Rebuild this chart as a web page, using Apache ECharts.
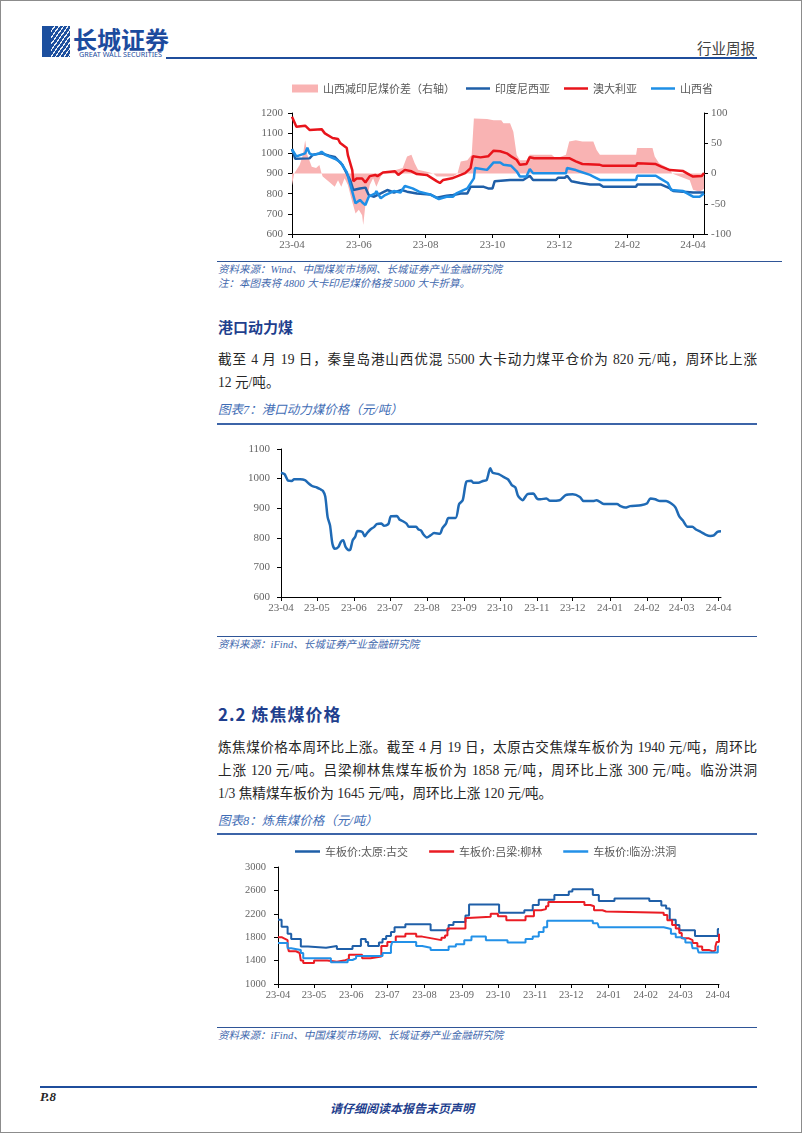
<!DOCTYPE html>
<html lang="zh-CN">
<head>
<meta charset="utf-8">
<title>行业周报</title>
<script src="https://cdn.jsdelivr.net/npm/echarts@6/dist/echarts.min.js"></script>
<style>
  html, body { margin: 0; padding: 0; background: #fff; }
  #page { position: relative; width: 802px; height: 1133px; overflow: hidden;
          font-family: "Liberation Serif", "Noto Sans CJK SC", serif; color: #262626; }
  #frame { position: absolute; left: 0; top: 0; width: 800px; height: 1131px; border: 1px solid #8c8c8c; }
  #chart { position: absolute; left: 0; top: 0; width: 802px; height: 1133px; }
  .t { position: absolute; white-space: nowrap; }
  .rule { position: absolute; height: 0; }
  .src { font-size: 10.5px; line-height: 14px; font-style: italic; color: #3f68ad; }
  .cap { font-size: 12.5px; line-height: 16px; font-style: italic; color: #3f6db5; }
  .h { font-family: "Noto Sans CJK SC", sans-serif; font-weight: bold; color: #1f3f8e; }
  .p { font-size: 13.6px; line-height: 20px; width: 539px; }
  .j { text-align: justify; text-align-last: justify; }
  #logo { position: absolute; left: 42px; top: 26px; width: 28px; height: 31px; background: #1c4f9e; overflow: hidden; }
  #logo:after { content: ''; position: absolute; left: 9px; top: -6px; width: 40px; height: 46px;
                background: repeating-linear-gradient(125deg, transparent 0 2.5px, rgba(255,255,255,.9) 2.5px 3.6px); }
</style>
</head>
<body>
<div id="page">
  <div id="frame"></div>

  <div id="logo"></div>
  <div class="t h" style="left:73px;top:25px;font-size:24px;line-height:28px;color:#1c4b9e;">长城证券</div>
  <div class="t" style="left:79px;top:50px;font-size:7.2px;line-height:8px;color:#1c4b9e;font-family:'Noto Sans',sans-serif;">GREAT WALL SECURITIES</div>
  <div class="rule" style="left:166px;top:57px;width:591px;border-top:2px solid #1f4e9c;"></div>
  <div class="t" style="left:697px;top:39px;font-size:14.5px;line-height:18px;color:#404040;font-family:'Noto Sans CJK SC';">行业周报</div>

  <div class="rule" style="left:217px;top:261px;width:565px;border-top:1.5px solid #2f5597;"></div>
  <div class="t src" style="left:218px;top:263px;">资料来源：Wind、中国煤炭市场网、长城证券产业金融研究院</div>
  <div class="t src" style="left:218px;top:277px;">注：本图表将 4800 大卡印尼煤价格按 5000 大卡折算。</div>

  <div class="t h" style="left:218px;top:317px;font-size:15px;line-height:20px;">港口动力煤</div>
  <div class="t p j" style="left:218px;top:350px;">截至 4 月 19 日，秦皇岛港山西优混 5500 大卡动力煤平仓价为 820 元/吨，周环比上涨</div>
  <div class="t p" style="left:218px;top:373px;">12 元/吨。</div>

  <div class="t cap" style="left:218px;top:402px;">图表7：港口动力煤价格（元/吨）</div>
  <div class="rule" style="left:217px;top:423px;width:540px;border-top:2px solid #3c64a8;"></div>

  <div class="rule" style="left:217px;top:636px;width:540px;border-top:1.5px solid #2f5597;"></div>
  <div class="t src" style="left:218px;top:638px;">资料来源：iFind、长城证券产业金融研究院</div>

  <div class="t h" style="left:218px;top:703px;font-size:17px;line-height:22px;letter-spacing:1px;">2.2 炼焦煤价格</div>
  <div class="t p j" style="left:218px;top:738px;">炼焦煤价格本周环比上涨。截至 4 月 19 日，太原古交焦煤车板价为 1940 元/吨，周环比</div>
  <div class="t p j" style="left:218px;top:761px;">上涨 120 元/吨。吕梁柳林焦煤车板价为 1858 元/吨，周环比上涨 300 元/吨。临汾洪洞</div>
  <div class="t p" style="left:218px;top:784px;">1/3 焦精煤车板价为 1645 元/吨，周环比上涨 120 元/吨。</div>

  <div class="t cap" style="left:218px;top:813px;">图表8：炼焦煤价格（元/吨）</div>
  <div class="rule" style="left:217px;top:833px;width:540px;border-top:2px solid #3c64a8;"></div>

  <div class="rule" style="left:217px;top:1027px;width:540px;border-top:1.5px solid #2f5597;"></div>
  <div class="t src" style="left:218px;top:1029px;">资料来源：iFind、中国煤炭市场网、长城证券产业金融研究院</div>

  <div class="rule" style="left:40px;top:1086px;width:717px;border-top:2px solid #1f4e9c;"></div>
  <div class="t" style="left:40px;top:1089px;font-size:13px;line-height:16px;font-weight:bold;font-style:italic;">P.8</div>
  <div class="t h" style="left:330px;top:1100px;font-size:12px;line-height:16px;font-style:italic;">请仔细阅读本报告末页声明</div>

  <div id="chart"></div>
</div>

<script>
// ---- 图1: 动力煤价格对比 (左轴 元/吨, 右轴 价差) ----
var c1TickDates = ['2023-04-01', '2023-06-01', '2023-08-01', '2023-10-01', '2023-12-01', '2024-02-01', '2024-04-01'];

var c1SpreadDates = ['2023-04-01','2023-04-03','2023-04-08','2023-04-11','2023-04-13','2023-04-15','2023-04-19','2023-04-23','2023-04-26','2023-04-28',
  '2023-04-29','2023-05-05','2023-05-10','2023-05-13','2023-05-16','2023-05-19','2023-05-22','2023-05-26','2023-05-29','2023-06-01',
  '2023-06-04','2023-06-05','2023-06-07','2023-06-11','2023-06-14','2023-06-17','2023-06-21','2023-06-23','2023-07-11','2023-07-15',
  '2023-07-19','2023-07-22','2023-07-25','2023-08-02','2023-08-08','2023-08-11','2023-08-26','2023-08-30','2023-09-02','2023-09-08',
  '2023-09-12','2023-09-14','2023-09-26','2023-10-02','2023-10-09','2023-10-11','2023-10-17','2023-10-20','2023-10-23','2023-10-26',
  '2023-11-01','2023-11-04','2023-11-24','2023-11-28','2023-12-07','2023-12-10','2023-12-16','2023-12-22','2024-01-01','2024-01-04',
  '2024-01-07','2024-02-09','2024-02-10','2024-02-24','2024-02-26','2024-03-01','2024-03-07','2024-03-11','2024-03-13','2024-03-20',
  '2024-03-29','2024-04-01','2024-04-07','2024-04-11'];
var c1SpreadValues = [-20,0,14,31,55,31,11,9,14,0,
  -5,-14,-22,-11,-22,-8,-19,-47,-66,-60,
  -69,-85,-52,-19,-8,-22,-5,0,9,28,
  31,17,6,3,0,-5,-5,0,20,22,
  31,91,90,88,88,83,83,69,31,22,
  22,31,31,25,31,53,55,53,53,39,
  31,31,42,42,28,17,11,6,0,-5,
  -11,-27,-30,-25];

var c1IndoDates = ['2023-04-01','2023-04-04','2023-04-17','2023-04-20','2023-04-28','2023-05-05','2023-05-10','2023-05-17','2023-05-24','2023-05-27',
  '2023-06-02','2023-06-07','2023-06-10','2023-06-15','2023-06-21','2023-06-27','2023-07-03','2023-07-10','2023-07-15','2023-07-24',
  '2023-08-05','2023-08-11','2023-08-20','2023-08-26','2023-09-02','2023-09-08','2023-09-11','2023-09-23','2023-09-27','2023-10-01',
  '2023-10-03','2023-10-17','2023-10-29','2023-11-04','2023-11-07','2023-11-28','2023-11-30','2023-12-06','2023-12-08','2023-12-12',
  '2023-12-20','2023-12-29','2024-01-07','2024-01-10','2024-02-09','2024-02-10','2024-03-03','2024-03-11','2024-03-14','2024-04-01',
  '2024-04-11'];
var c1IndoValues = [1022,973,975,993,1000,988,982,943,868,818,
  826,830,793,785,801,818,806,818,810,801,
  796,780,790,793,801,801,834,834,826,826,
  862,868,868,889,868,868,879,879,889,862,
  853,845,845,834,834,845,845,826,813,806,
  806];

var c1AusDates = ['2023-04-01','2023-04-05','2023-04-13','2023-04-17','2023-04-28','2023-05-01','2023-05-08','2023-05-13','2023-05-15','2023-05-21',
  '2023-05-22','2023-05-26','2023-05-27','2023-05-30','2023-06-04','2023-06-07','2023-06-11','2023-06-16','2023-06-18','2023-06-23',
  '2023-07-04','2023-07-07','2023-07-13','2023-07-19','2023-07-24','2023-08-02','2023-08-11','2023-08-14','2023-08-17','2023-08-25',
  '2023-09-02','2023-09-06','2023-09-11','2023-09-13','2023-09-20','2023-09-27','2023-10-02','2023-10-08','2023-10-14','2023-10-18',
  '2023-10-23','2023-10-26','2023-11-01','2023-11-04','2023-11-08','2023-12-10','2023-12-16','2023-12-22','2024-01-07','2024-01-10',
  '2024-02-09','2024-02-10','2024-02-27','2024-03-03','2024-03-11','2024-03-23','2024-03-29','2024-04-01','2024-04-09','2024-04-11'];
var c1AusValues = [1182,1132,1137,1116,1120,1099,1076,1071,1051,1026,
  991,917,862,875,875,855,887,893,887,905,
  911,893,918,911,897,893,862,853,868,876,
  893,902,927,985,980,985,1013,1010,1000,985,
  968,943,947,981,976,976,960,947,943,938,
  938,951,947,934,917,912,893,885,888,902];

var c1ShanxiDates = ['2023-04-01','2023-04-05','2023-04-13','2023-04-15','2023-04-17','2023-04-20','2023-04-26','2023-04-28','2023-05-02','2023-05-10',
  '2023-05-15','2023-05-21','2023-05-26','2023-05-29','2023-06-02','2023-06-05','2023-06-07','2023-06-10','2023-06-16','2023-06-17',
  '2023-06-21','2023-06-25','2023-07-03','2023-07-09','2023-07-13','2023-07-20','2023-07-26','2023-08-05','2023-08-13','2023-08-20',
  '2023-08-26','2023-08-29','2023-09-08','2023-09-14','2023-09-15','2023-09-26','2023-10-02','2023-10-08','2023-10-11','2023-10-18',
  '2023-10-23','2023-10-26','2023-11-01','2023-11-04','2023-11-07','2023-12-07','2023-12-08','2023-12-16','2023-12-19','2023-12-29',
  '2024-01-01','2024-01-07','2024-02-09','2024-02-10','2024-02-27','2024-03-03','2024-03-09','2024-03-12','2024-03-23','2024-04-01',
  '2024-04-07','2024-04-11'];
var c1ShanxiValues = [1020,985,1000,1028,1000,991,1000,1008,991,973,
  957,907,810,752,769,752,744,785,801,813,
  777,793,813,806,838,826,810,796,773,785,
  785,801,826,876,927,918,955,955,943,938,
  911,885,885,922,901,901,927,917,911,893,
  885,868,868,889,889,872,853,818,813,785,
  785,801];

// ---- 图表7: 港口动力煤价格 ----
var monthTicks = ['2023-04-01','2023-05-01','2023-06-01','2023-07-01','2023-08-01','2023-09-01','2023-10-01',
  '2023-11-01','2023-12-01','2024-01-01','2024-02-01','2024-03-01','2024-04-01'];

var portDates = ['2023-04-01','2023-04-04','2023-04-07','2023-04-10','2023-04-12','2023-04-17','2023-04-21','2023-04-24','2023-04-27','2023-05-01',
  '2023-05-04','2023-05-06','2023-05-08','2023-05-10','2023-05-12','2023-05-14','2023-05-16','2023-05-19','2023-05-21','2023-05-23',
  '2023-05-25','2023-05-28','2023-05-29','2023-05-31','2023-06-02','2023-06-04','2023-06-08','2023-06-10','2023-06-12','2023-06-15',
  '2023-06-18','2023-06-20','2023-06-24','2023-06-26','2023-06-28','2023-06-30','2023-07-02','2023-07-07','2023-07-09','2023-07-12',
  '2023-07-15','2023-07-17','2023-07-23','2023-07-25','2023-07-27','2023-07-29','2023-08-01','2023-08-04','2023-08-07','2023-08-12',
  '2023-08-14','2023-08-17','2023-08-19','2023-08-25','2023-08-28','2023-08-31','2023-09-03','2023-09-07','2023-09-09','2023-09-13',
  '2023-09-17','2023-09-20','2023-09-23','2023-09-25','2023-09-30','2023-10-04','2023-10-08','2023-10-11','2023-10-14','2023-10-16',
  '2023-10-18','2023-10-20','2023-10-24','2023-10-29','2023-11-01','2023-11-04','2023-11-09','2023-11-12','2023-11-20','2023-11-25',
  '2023-12-01','2023-12-07','2023-12-10','2023-12-18','2023-12-21','2023-12-27','2024-01-07','2024-01-10','2024-01-14','2024-01-18',
  '2024-01-27','2024-02-01','2024-02-04','2024-02-08','2024-02-12','2024-02-17','2024-02-22','2024-02-25','2024-02-28','2024-03-02',
  '2024-03-06','2024-03-10','2024-03-13','2024-03-17','2024-03-21','2024-03-25','2024-03-28','2024-03-31','2024-04-03'];
var portValues = [1020,1015,993,992,998,998,995,984,975,970,
  964,959,940,870,842,780,763,769,786,792,
  769,758,760,792,803,823,820,805,816,829,
  837,846,848,841,842,848,873,874,862,856,
  848,837,837,828,825,812,801,808,816,814,
  833,848,867,867,914,927,989,993,986,986,
  992,995,1035,1020,1015,1006,997,978,970,944,
  933,927,947,950,933,930,933,925,927,944,
  947,938,924,924,927,914,914,907,902,907,
  910,916,933,930,924,924,914,902,873,859,
  837,837,828,820,811,806,808,820,822];

// ---- 图表8: 炼焦煤价格 ----
var gujiaoDates = ['2023-04-01','2023-04-04','2023-04-09','2023-04-12','2023-04-20','2023-04-26','2023-05-11','2023-05-20','2023-06-02','2023-06-09',
  '2023-06-13','2023-06-15','2023-06-24','2023-06-27','2023-06-30','2023-07-04','2023-07-07','2023-07-16','2023-08-06','2023-08-21',
  '2023-08-25','2023-09-04','2023-09-07','2023-10-02','2023-10-23','2023-10-30','2023-11-04','2023-11-17','2023-11-29','2023-12-02',
  '2023-12-19','2023-12-24','2024-01-06','2024-02-04','2024-02-14','2024-02-18','2024-02-21','2024-02-26','2024-02-29','2024-03-13',
  '2024-04-01','2024-04-02'];
var gujiaoValues = [2100,1980,1860,1770,1640,1620,1650,1600,1650,1770,
  1720,1650,1710,1770,1820,1890,1970,2020,1920,2010,
  2060,2170,2360,2220,2260,2350,2440,2520,2580,2620,
  2520,2420,2460,2420,2340,2290,2100,2010,1920,1820,
  1940,1940];

var liulinDates = ['2023-04-01','2023-04-04','2023-04-06','2023-04-09','2023-04-10','2023-04-16','2023-04-19','2023-04-20','2023-04-22','2023-05-01',
  '2023-05-12','2023-05-20','2023-05-26','2023-05-30','2023-06-10','2023-06-17','2023-06-26','2023-07-01','2023-07-08','2023-07-16',
  '2023-07-25','2023-07-30','2023-08-07','2023-08-15','2023-08-18','2023-08-20','2023-09-04','2023-09-06','2023-09-25','2023-10-01',
  '2023-10-08','2023-10-24','2023-10-31','2023-11-06','2023-11-10','2023-11-12','2023-12-12','2023-12-17','2023-12-20','2023-12-27',
  '2023-12-30','2024-02-16','2024-02-19','2024-02-23','2024-02-26','2024-02-29','2024-03-02','2024-03-08','2024-03-11','2024-03-15',
  '2024-03-19','2024-03-25','2024-03-28','2024-03-30','2024-03-31','2024-04-02'];
var liulinValues = [1800,1780,1750,1650,1560,1530,1500,1400,1360,1400,
  1380,1400,1430,1500,1440,1470,1650,1720,1810,1860,
  1810,1780,1750,1790,1830,1950,2130,2150,2200,2160,
  2090,2160,2260,2280,2330,2400,2350,2330,2260,2240,
  2220,2180,2090,2010,1950,1870,1780,1750,1700,1640,
  1580,1555,1580,1640,1720,1858];

var hongtongDates = ['2023-04-01','2023-04-09','2023-04-12','2023-04-20','2023-04-22','2023-05-15','2023-05-29','2023-06-02','2023-06-05','2023-06-27',
  '2023-07-04','2023-07-05','2023-07-25','2023-07-30','2023-08-06','2023-08-21','2023-08-27','2023-09-03','2023-09-09','2023-09-21',
  '2023-10-09','2023-10-24','2023-10-30','2023-11-04','2023-11-08','2023-11-11','2023-12-19','2023-12-23','2023-12-24','2024-02-16',
  '2024-02-22','2024-02-26','2024-03-01','2024-03-05','2024-03-10','2024-03-11','2024-03-15','2024-03-16','2024-04-01','2024-04-02'];
var hongtongValues = [1700,1610,1580,1530,1440,1370,1410,1440,1480,1530,
  1640,1720,1650,1620,1580,1640,1680,1750,1810,1750,
  1710,1770,1810,1890,1970,2080,2040,2010,1970,1940,
  1860,1800,1770,1710,1690,1610,1580,1540,1640,1645];

// 每日类目轴 (起止日期)
function dayList(start, end) {
    var out = [];
    var d = new Date(start + 'T00:00:00Z');
    var stop = new Date(end + 'T00:00:00Z');
    while (d <= stop) {
        out.push(d.toISOString().slice(0, 10));
        d.setUTCDate(d.getUTCDate() + 1);
    }
    return out;
}
function pairs(dates, values) {
    return dates.map(function (d, i) { return [d, values[i]]; });
}

var labelColor = '#666';
var serif = '"Liberation Serif", "Noto Sans CJK SC", serif';
var legendText = { fontSize: 11, color: '#595959', fontFamily: '"Noto Sans CJK SC", sans-serif' };

function dateAxis(gridIndex, days, ticks, fontSize) {
    var show = function (index, value) { return ticks.indexOf(value) >= 0; };
    return {
        type: 'category',
        gridIndex: gridIndex,
        data: days,
        boundaryGap: false,
        axisLine: { onZero: false, lineStyle: { color: '#000', width: 1 } },
        axisTick: { interval: show, length: 4, lineStyle: { color: '#000' } },
        axisLabel: {
            interval: show,
            formatter: function (v) { return v.slice(2, 7); },
            color: labelColor, fontSize: fontSize, fontFamily: serif, margin: 6
        },
        splitLine: { show: false }
    };
}
function valueAxis(gridIndex, min, max, interval, position, margin, fontSize) {
    return {
        type: 'value',
        gridIndex: gridIndex,
        position: position,
        min: min, max: max, interval: interval,
        axisLine: { show: true, lineStyle: { color: '#000', width: 1 } },
        axisTick: { show: true, length: 4, lineStyle: { color: '#000' } },
        axisLabel: {
            color: labelColor, fontSize: fontSize, fontFamily: serif, margin: margin,
            formatter: function (v) { return String(v); }
        },
        splitLine: { show: false }
    };
}
function lineSeries(name, x, y, data, color, width) {
    return {
        name: name, type: 'line', xAxisIndex: x, yAxisIndex: y, data: data,
        symbol: 'none', color: color,
        lineStyle: { color: color, width: width }
    };
}
function lineLegend(left, top, gap, width, names) {
    return {
        left: left, top: top, padding: 0, itemWidth: width, itemHeight: 2.5, itemGap: gap,
        textStyle: legendText,
        data: names.map(function (n) { return { name: n, icon: 'rect' }; })
    };
}

var pink = '#f9b3b3';
var chart = echarts.init(document.getElementById('chart'));

var s2 = lineSeries('港口动力煤', 1, 2, pairs(portDates, portValues), '#1f6ab5', 2.5);
s2.smooth = 0.25;
var g1 = lineSeries('车板价:太原:古交', 2, 3, pairs(gujiaoDates, gujiaoValues), '#1f5fa8', 2);
var g2 = lineSeries('车板价:吕梁:柳林', 2, 3, pairs(liulinDates, liulinValues), '#ea1c24', 2);
var g3 = lineSeries('车板价:临汾:洪洞', 2, 3, pairs(hongtongDates, hongtongValues), '#2391e8', 2);
[g1, g2, g3].forEach(function (s) { s.step = 'end'; });

var option = {
    animation: false,
    textStyle: { fontFamily: serif },
    legend: [
        {
            left: 292, top: 83, padding: 0, itemWidth: 26, itemHeight: 8,
            textStyle: legendText,
            data: [{ name: '山西减印尼煤价差（右轴）', icon: 'rect', itemStyle: { color: pink } }]
        },
        lineLegend(466, 83, 14, 24, ['印度尼西亚', '澳大利亚', '山西省']),
        lineLegend(295, 846, 21, 25, ['车板价:太原:古交', '车板价:吕梁:柳林', '车板价:临汾:洪洞'])
    ],
    grid: [
        { left: 292, top: 113, width: 412, height: 121 },
        { left: 281, top: 449, width: 440, height: 148 },
        { left: 278, top: 867, width: 441, height: 117 }
    ],
    xAxis: [
        dateAxis(0, dayList('2023-04-01', '2024-04-11'), c1TickDates, 11),
        dateAxis(1, dayList('2023-04-01', '2024-04-03'), monthTicks, 11),
        dateAxis(2, dayList('2023-04-01', '2024-04-02'), monthTicks, 10.5)
    ],
    yAxis: [
        valueAxis(0, 600, 1200, 100, 'left', 9, 11),
        valueAxis(0, -100, 100, 50, 'right', 7, 11),
        valueAxis(1, 600, 1100, 100, 'left', 11, 11),
        valueAxis(2, 1000, 3000, 400, 'left', 12, 10.5)
    ],
    series: [
        {
            name: '山西减印尼煤价差（右轴）', type: 'line', xAxisIndex: 0, yAxisIndex: 1,
            data: pairs(c1SpreadDates, c1SpreadValues),
            symbol: 'none', color: pink, z: 1,
            lineStyle: { width: 0, color: pink },
            areaStyle: { color: pink, opacity: 1 }
        },
        lineSeries('印度尼西亚', 0, 0, pairs(c1IndoDates, c1IndoValues), '#1f5fa8', 2.5),
        lineSeries('澳大利亚', 0, 0, pairs(c1AusDates, c1AusValues), '#e8141b', 2.5),
        lineSeries('山西省', 0, 0, pairs(c1ShanxiDates, c1ShanxiValues), '#1e8fe6', 2.5),
        s2, g1, g2, g3
    ]
};
chart.setOption(option);
</script>
</body>
</html>
